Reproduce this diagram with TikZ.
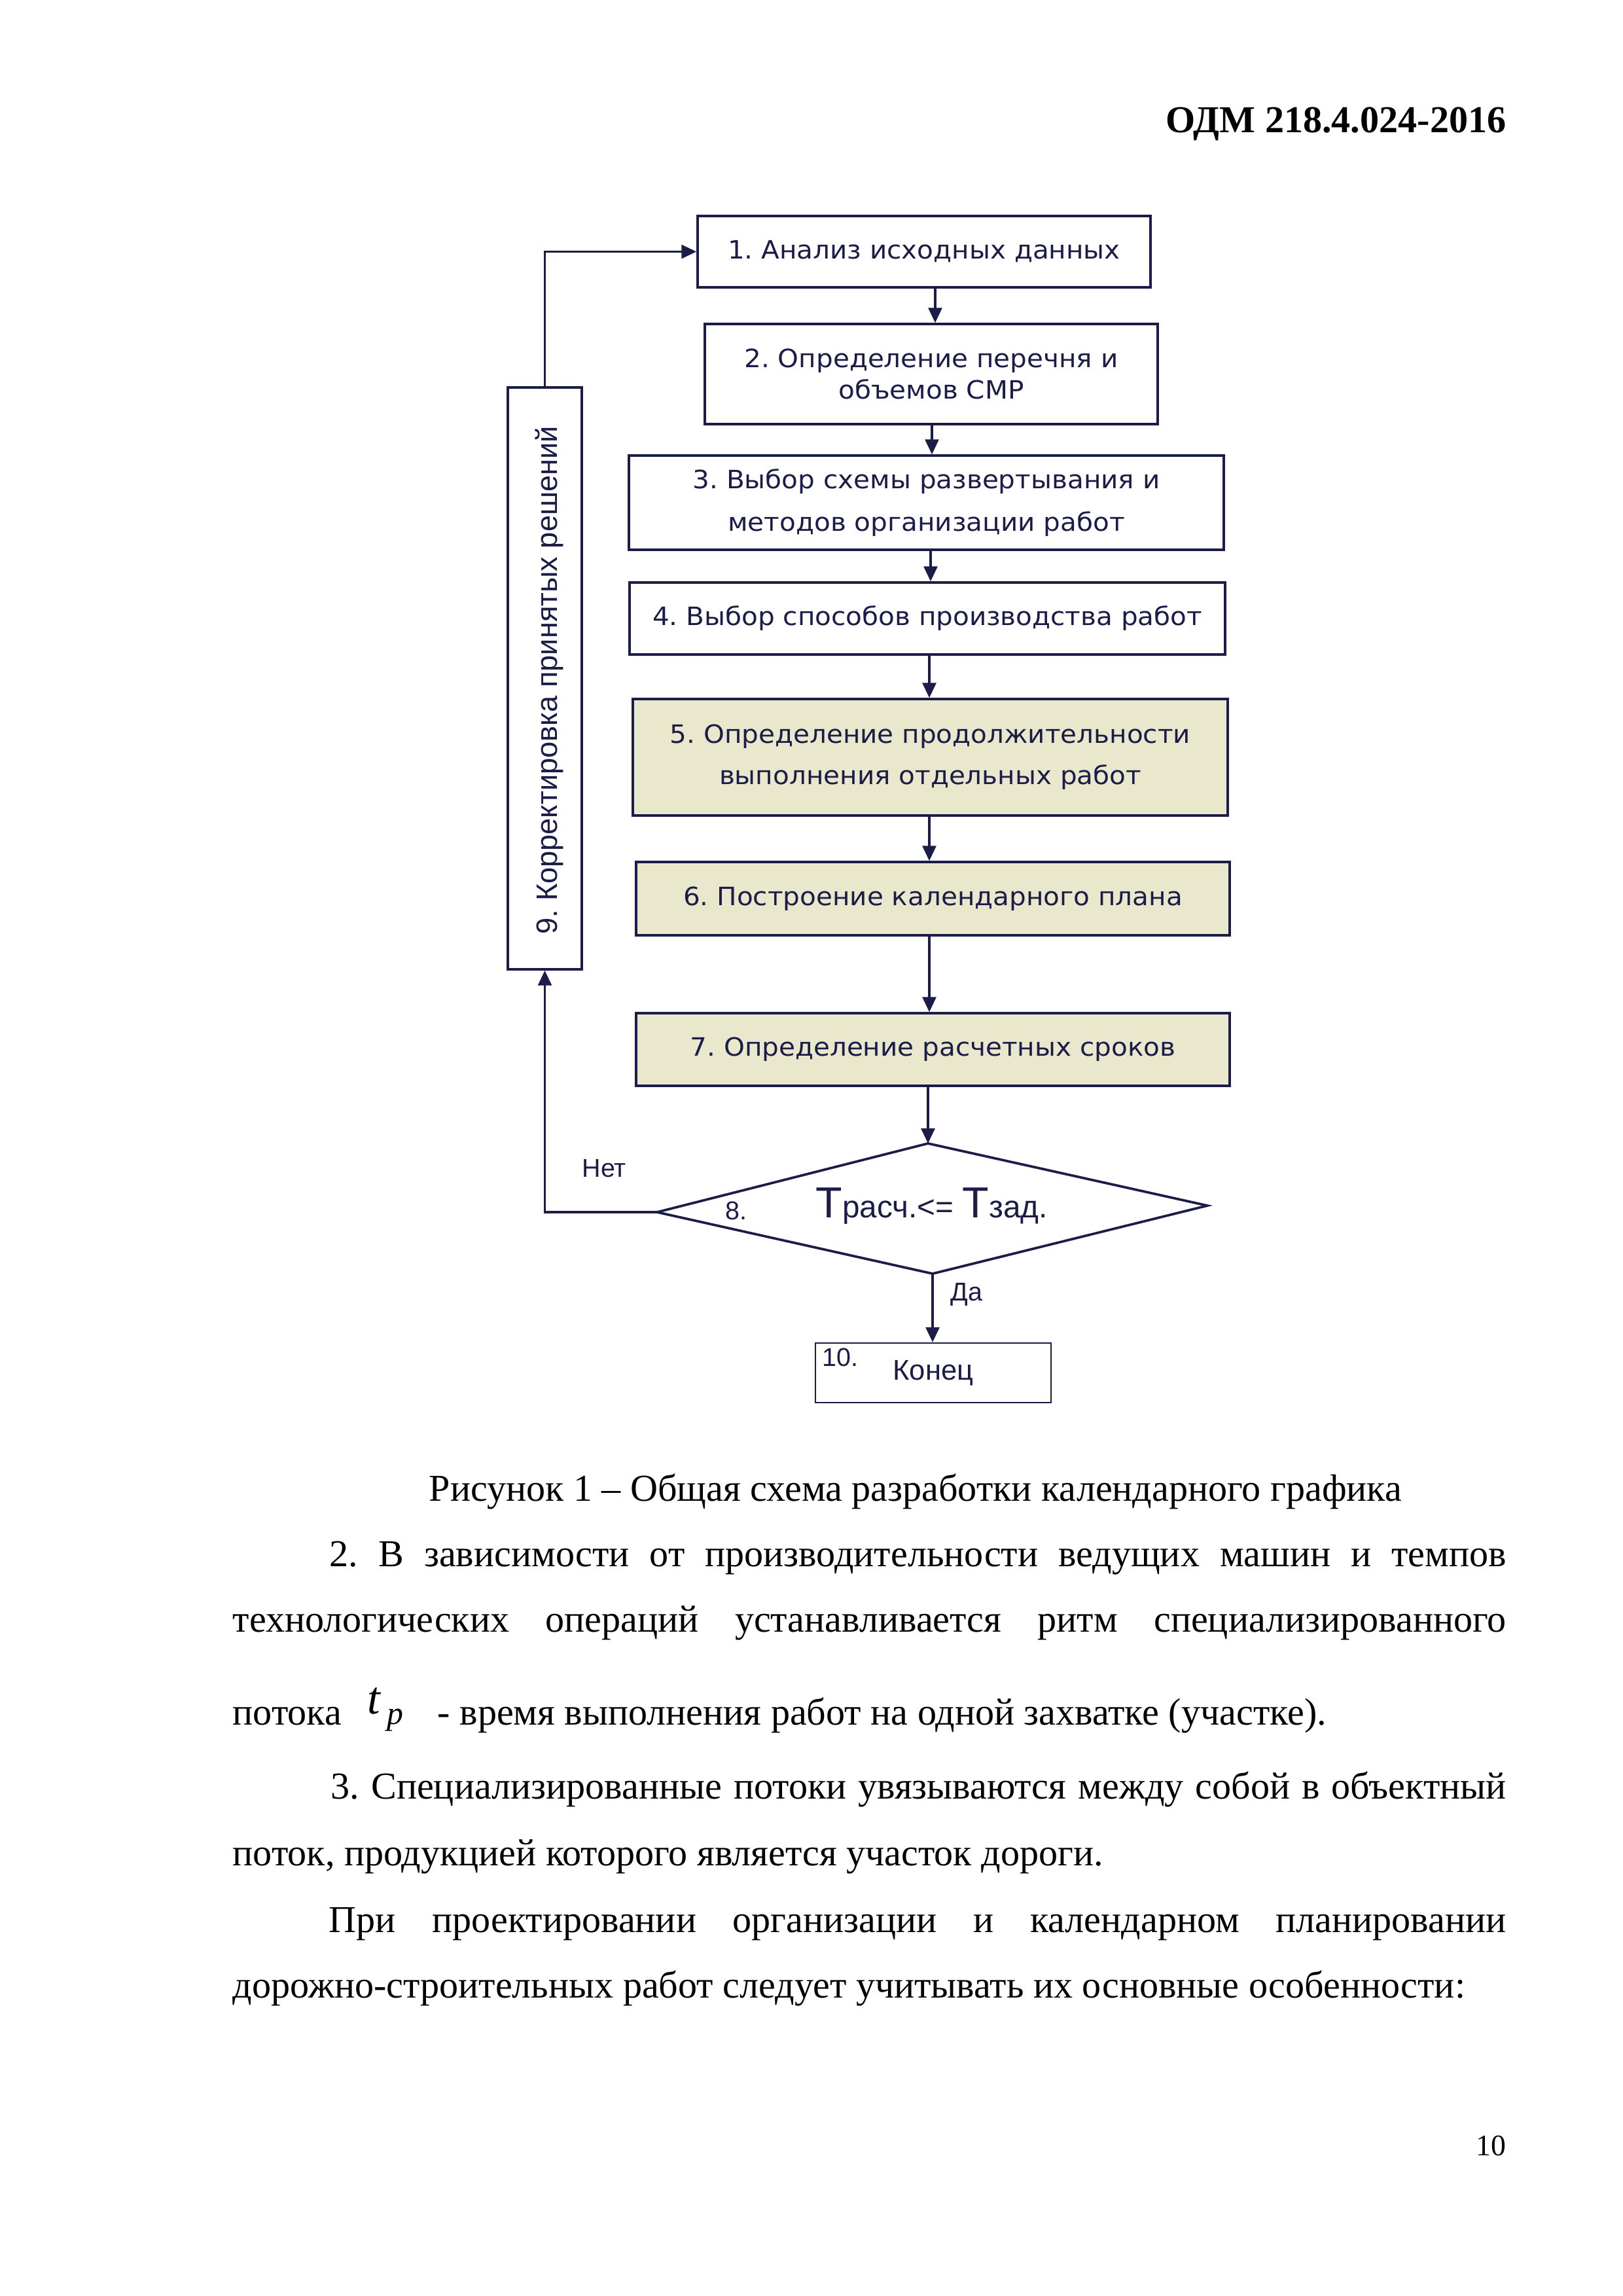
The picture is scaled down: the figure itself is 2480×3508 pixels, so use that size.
\documentclass[tikz,border=0pt]{standalone}
\usepackage{fontspec}
\setmainfont{Liberation Serif}
\newfontfamily\boxfont[FakeStretch=1.05]{DejaVu Sans}
\newfontfamily\arialf{Liberation Sans}
\usetikzlibrary{arrows.meta}
\definecolor{navy}{RGB}{28,28,72}
\definecolor{beige}{RGB}{233,232,205}
\newcommand\pxu{0.24098pt}
\frenchspacing
\begin{document}
\begin{tikzpicture}[x=0.24098pt, y=-0.24098pt,
  box/.style={draw=navy, line width=0.85pt, inner sep=0pt, align=center, text=navy,
    font=\boxfont\fontsize{9.3}{11.6}\selectfont},
  shaded/.style={box, fill=beige},
  conn/.style={draw=navy, line width=0.8pt},
  arr/.style={conn, -{Triangle[length=5.5pt,width=5pt]}},
  lbl/.style={inner sep=0pt, text=navy, font=\arialf\fontsize{9.5}{9.5}\selectfont},
  body/.style={inner sep=0pt, font=\fontsize{14}{16}\selectfont}]
\useasboundingbox (0,0) rectangle (2480,3508);

% header
\node[inner sep=0pt, anchor=base east, font=\bfseries\fontsize{14}{16}\selectfont] (hdr) at (2302,202) {ОДМ 218.4.024-2016};

% boxes
\node[box, minimum width={692*\pxu}, minimum height={109*\pxu}] (b1) at (1412,384.5) {1. Анализ исходных данных};
\node[box, minimum width={692*\pxu}, minimum height={153*\pxu}] (b2) at (1423,571.5) {2. Определение перечня и\\объемов СМР};
\node[box, minimum width={909*\pxu}, minimum height={144*\pxu}, font=\boxfont\fontsize{9.3}{15.6}\selectfont] (b3) at (1415.5,768) {3. Выбор схемы развертывания и\\методов организации работ};
\node[box, minimum width={910*\pxu}, minimum height={110*\pxu}] (b4) at (1417,945) {4. Выбор способов производства работ};
\node[shaded, minimum width={909*\pxu}, minimum height={178*\pxu}, font=\boxfont\fontsize{9.3}{15.2}\selectfont] (b5) at (1421.5,1157) {5. Определение продолжительности\\выполнения отдельных работ};
\node[shaded, minimum width={907*\pxu}, minimum height={112*\pxu}] (b6) at (1425.5,1373) {6. Построение календарного плана};
\node[shaded, minimum width={907*\pxu}, minimum height={111*\pxu}] (b7) at (1425.5,1603.5) {7. Определение расчетных сроков};
\node[box, minimum width={113*\pxu}, minimum height={889*\pxu}] (b9) at (832.5,1036.5) {};
\node[inner sep=0pt, rotate=90, anchor=base, text=navy, font=\arialf\fontsize{10.9}{10.9}\selectfont] (t9) at (851,1039) {9. Корректировка принятых решений};
\node[box, line width=0.6pt, minimum width={360*\pxu}, minimum height={91*\pxu}, font=\arialf\fontsize{10.5}{10.5}\selectfont] (b10) at (1426,2097.5) {Конец};

% diamond
\coordinate (dT) at (1418,1747);
\coordinate (dR) at (1845,1842);
\coordinate (dB) at (1425,1946);
\coordinate (dL) at (1004,1852);
\draw[draw=navy, line width=0.9pt, line join=miter] (dT) -- (dR) -- (dB) -- (dL) -- cycle;

% connector x positions
\coordinate (a12) at (1429,0);
\coordinate (a23) at (1424,0);
\coordinate (a34) at (1422,0);
\coordinate (a45) at (1420,0);
\draw[arr] (b1.south -| a12) -- (b2.north -| a12);
\draw[arr] (b2.south -| a23) -- (b3.north -| a23);
\draw[arr] (b3.south -| a34) -- (b4.north -| a34);
\draw[arr] (b4.south -| a45) -- (b5.north -| a45);
\draw[arr] (b5.south -| a45) -- (b6.north -| a45);
\draw[arr] (b6.south -| a45) -- (b7.north -| a45);
\draw[arr] (b7.south -| dT) -- (dT);
\draw[arr] (dB) -- (b10.north -| dB);
\draw[arr] (dL) -| (b9.south);
\draw[arr] (b9.north) |- (b1.west);

% labels
\node[lbl, anchor=base west] (net) at (889,1798) {Нет};
\node[lbl, anchor=base west] (da) at (1452,1987) {Да};
\node[lbl, anchor=base west] (n8) at (1108,1863) {8.};
\node[lbl, anchor=base west] (n10) at (1256,2087) {10.};
\node[inner sep=0pt, anchor=base west, text=navy, font=\arialf] (cond) at (1246,1860)
  {{\fontsize{16}{16}\selectfont Т}{\fontsize{11.5}{11.5}\selectfont расч.<= }{\fontsize{16}{16}\selectfont Т}{\fontsize{11.5}{11.5}\selectfont зад.}};

% caption and body text
\node[body, anchor=base west] (cap) at (655,2293) {Рисунок 1 – Общая схема разработки календарного графика};
\node[body, anchor=base west] (l1) at (503,2393) {\makebox[433.3pt][s]{2. В зависимости от производительности ведущих машин и темпов}};
\node[body, anchor=base west] (l2) at (355,2493) {\makebox[468.95pt][s]{технологических операций устанавливается ритм специализированного}};
\node[body, anchor=base west] (l3a) at (355,2635) {потока};
\node[inner sep=0pt, anchor=base west, font=\itshape\fontsize{17}{17}\selectfont] (tt) at (561,2618) {t};
\node[inner sep=0pt, anchor=base west, font=\itshape\fontsize{12}{12}\selectfont] (tp) at (591,2634) {p};
\node[body, anchor=base west] (l3b) at (668,2635) {- время выполнения работ на одной захватке (участке).};
\node[body, anchor=base west] (l4) at (505,2748) {\makebox[432.8pt][s]{3. Специализированные потоки увязываются между собой в объектный}};
\node[body, anchor=base west] (l5) at (355,2850) {поток, продукцией которого является участок дороги.};
\node[body, anchor=base west] (l6) at (502,2952) {\makebox[433.5pt][s]{При проектировании организации и календарном планировании}};
\node[body, anchor=base west] (l7) at (355,3052) {дорожно-строительных работ следует учитывать их основные особенности:};

% page number
\node[inner sep=0pt, anchor=base east, font=\fontsize{11}{13}\selectfont] (pg) at (2302,3293) {10};
\end{tikzpicture}
\end{document}
